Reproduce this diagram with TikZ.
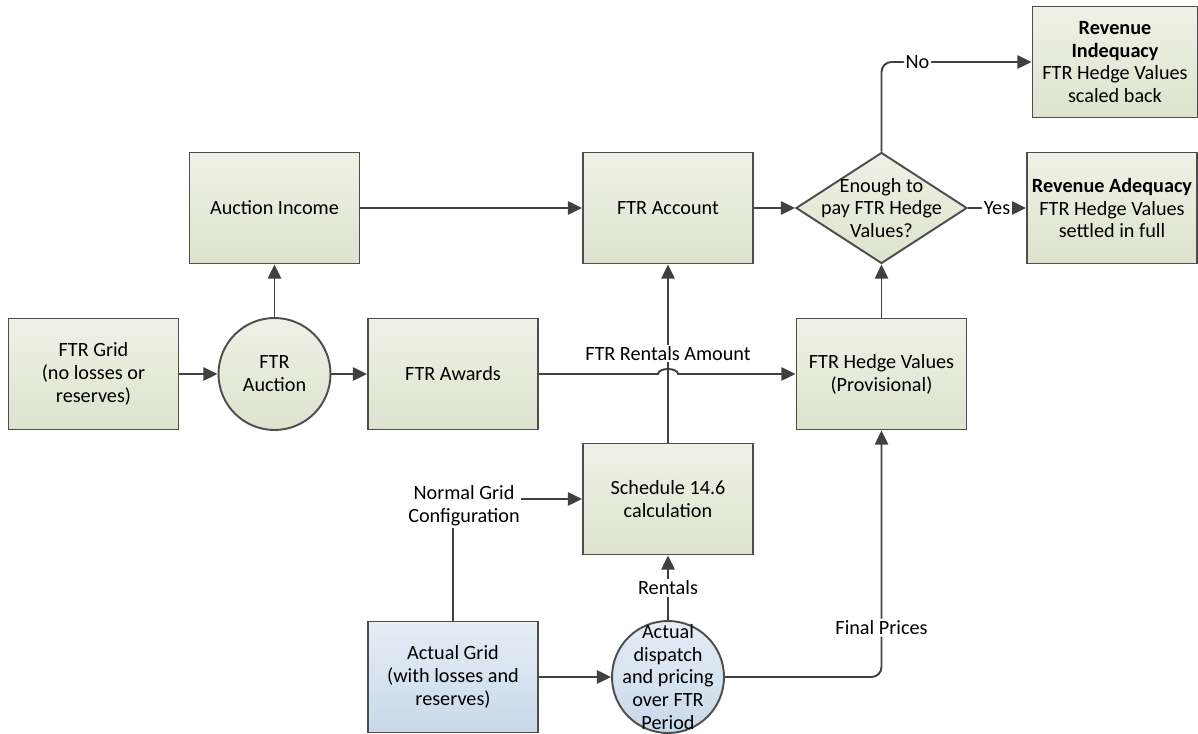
\documentclass[tikz,border=0pt]{standalone}
\usepackage{fontspec}
\setmainfont{Carlito}
\usetikzlibrary{positioning,shapes.geometric,arrows.meta}

\definecolor{edgegray}{RGB}{77,77,77}
\definecolor{linegray}{RGB}{64,64,64}
\definecolor{greentop}{RGB}{239,241,230}
\definecolor{greenbot}{RGB}{221,227,205}
\definecolor{bluetop}{RGB}{230,237,245}
\definecolor{bluebot}{RGB}{200,217,234}

\tikzset{
  box/.style={draw=edgegray, line width=1.1pt, top color=greentop, bottom color=greenbot,
    minimum width=3.4cm, minimum height=2.22cm, align=center, inner sep=2pt},
  bluebox/.style={box, top color=bluetop, bottom color=bluebot},
  circ/.style={circle, draw=edgegray, line width=1.1pt, top color=greentop, bottom color=greenbot,
    minimum size=2.24cm, inner sep=0pt, align=center},
  bluecirc/.style={circ, top color=bluetop, bottom color=bluebot},
  decide/.style={diamond, draw=edgegray, line width=1.1pt, top color=greentop, bottom color=greenbot,
    minimum width=3.42cm, minimum height=2.22cm, inner sep=0pt},
  lbl/.style={fill=white, inner sep=1pt, align=center},
  arr/.style={draw=linegray, line width=1.1pt, -{Triangle[length=8pt,width=7.5pt]}}
}

\begin{document}
\begin{tikzpicture}[font=\fontsize{11.5}{13}\selectfont]
\useasboundingbox (0,0) rectangle (23.96,14.66);

% Middle row
\node[box] (grid) at (1.87,7.18) {FTR Grid\\(no losses or\\reserves)};
\node[circ] (auction) at (5.49,7.18) {FTR\\Auction};
\node[box] (awards) at (9.06,7.18) {FTR Awards};
\node[box] (hedge) at (17.63,7.18) {FTR Hedge Values\\(Provisional)};

% Top row
\node[box] (income) at (5.49,10.50) {Auction Income};
\node[box] (account) at (13.36,10.50) {FTR Account};
\node[decide, label={[align=center]center:Enough to\\pay FTR Hedge\\Values?}] (dec) at (17.63,10.50) {};
\node[box] (adeq) at (22.24,10.50) {\textbf{Revenue Adequacy}\\FTR Hedge Values\\settled in full};
\node[box, minimum width=3.3cm] (indeq) at (22.30,13.42) {\textbf{Revenue}\\\textbf{Indequacy}\\FTR Hedge Values\\scaled back};

% Bottom rows
\node[box] (sched) at (13.36,4.68) {Schedule 14.6\\calculation};
\node[bluebox] (agrid) at (9.06,1.12) {Actual Grid\\(with losses and\\reserves)};
\node[bluecirc, label={[align=center]center:Actual\\dispatch\\and pricing\\over FTR\\Period}] (dispatch) at (13.36,1.12) {};

% Connectors
\draw[arr] (grid) -- (auction);
\draw[arr] (auction) -- (awards);
\draw[arr] (auction) -- (income);
\draw[arr] (income) -- (account);
\draw[arr] (account) -- (dec);
\draw[arr] (dec) -- node[lbl]{Yes} (adeq);
\draw[arr, rounded corners=0.2cm] (dec.north) |- node[lbl, pos=0.62]{No} (indeq.west);
\draw[arr] (hedge) -- (dec);
\draw[arr] (sched) -- node[lbl]{FTR Rentals Amount} (account);

% Awards line hops over the rentals line
\coordinate (hop) at (sched.north |- awards.east);
\draw[arr] (awards.east) -- ([xshift=-0.2cm]hop)
  arc[start angle=180, end angle=0, x radius=0.2cm, y radius=0.1cm] -- (hedge.west);

\draw[arr] (agrid.north) |- node[lbl, pos=0.5, xshift=0.22cm, yshift=-0.14cm]{Normal Grid\\Configuration} (sched.west);
\draw[arr] (agrid) -- (dispatch);
\draw[arr] (dispatch) -- node[lbl]{Rentals} (sched);
\draw[arr, rounded corners=0.2cm] (dispatch.east) -| node[lbl, pos=0.6]{Final Prices} (hedge.south);

\end{tikzpicture}
\end{document}
